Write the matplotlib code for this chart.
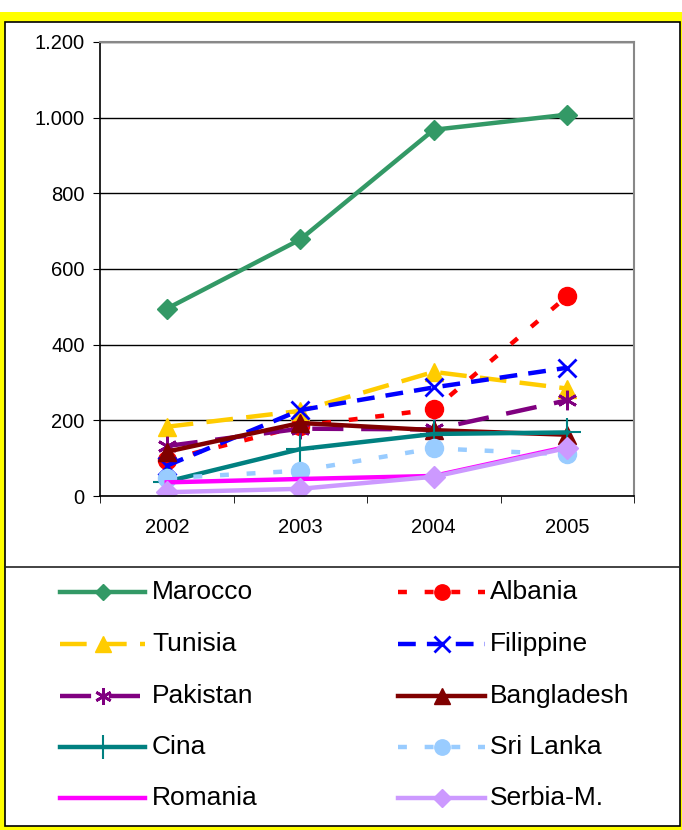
import matplotlib
matplotlib.use("Agg")
import matplotlib.pyplot as plt
from matplotlib.patches import Rectangle
from matplotlib.lines import Line2D
from matplotlib.ticker import FuncFormatter

plt.rcParams["font.family"] = ["Liberation Sans", "DejaVu Sans"]

years = ["2002", "2003", "2004", "2005"]

marocco = [495, 678, 968, 1008]
albania = [95, 185, 229, 528]
tunisia = [183, 225, 328, 284]
filippine = [80, 227, 287, 339]
pakistan = [132, 178, 176, 253]
bangladesh = [117, 193, 174, 162]
cina = [38, 124, 164, 168]
sri_lanka = [47, 67, 126, 110]
romania = [36, 45, 53, 130]
serbia = [10, 19, 51, 127]

names = ["Marocco", "Albania", "Tunisia", "Filippine", "Pakistan",
         "Bangladesh", "Cina", "Sri Lanka", "Romania", "Serbia-M."]
values = [marocco, albania, tunisia, filippine, pakistan,
          bangladesh, cina, sri_lanka, romania, serbia]

styles = [
    dict(color="#339966", ls="-", marker="D", ms=10),
    dict(color="#FF0000", ls=(0, (2.0, 4.0)), marker="o", ms=13),
    dict(color="#FFCC00", ls=(0, (6.0, 3.0)), marker="^", ms=13),
    dict(color="#0000FF", ls=(0, (4.0, 2.5)), marker="x", ms=13, mew=2),
    dict(color="#800080", ls=(0, (7.0, 4.0)), marker=(6, 2, 0), ms=14, mew=2),
    dict(color="#800000", ls="-", marker="^", ms=13),
    dict(color="#008080", ls="-", marker="+", ms=20, mew=1.5),
    dict(color="#99CCFF", ls=(0, (2.0, 4.0)), marker="o", ms=13),
    dict(color="#FF00FF", ls="-", marker=None, ms=0),
    dict(color="#CC99FF", ls="-", marker="D", ms=11),
]

W, H = 682, 830
fig = plt.figure(figsize=(W / 100, H / 100), dpi=100)
fig.patch.set_facecolor("white")

# yellow frame and white panel
fig.patches.append(Rectangle((0, 0), 1, (H - 12) / H, transform=fig.transFigure,
                             facecolor="#FFFF00", edgecolor="none", zorder=0))
fig.patches.append(Rectangle((5 / W, 4 / H), (675 / W), (H - 26) / H,
                             transform=fig.transFigure, facecolor="white",
                             edgecolor="black", lw=1.2, zorder=1))
fig.lines.append(Line2D([5 / W, 680 / W], [(H - 567) / H] * 2,
                        transform=fig.transFigure, color="#222222", lw=1.2, zorder=2))

ax = fig.add_axes([100 / W, (H - 496) / H, 534 / W, 454 / H])
ax.set_zorder(3)
ax.set_facecolor("white")
x = list(range(len(years)))
for name, vals, st in zip(names, values, styles):
    ax.plot(x, vals, color=st["color"], ls=st["ls"], lw=3.2,
            marker=st["marker"], ms=st["ms"], mew=st.get("mew", 1),
            mfc=st["color"], mec=st["color"], label=name)

ax.set_xlim(-0.5, 3.5)
ax.set_ylim(0, 1200)
ax.set_yticks(range(0, 1201, 200))
ax.yaxis.set_major_formatter(FuncFormatter(lambda v, p: f"{int(v):,}".replace(",", ".")))
ax.set_xticks(x)
ax.set_xticklabels(years)
ax.set_xticks([-0.5, 0.5, 1.5, 2.5, 3.5], minor=True)
ax.tick_params(axis="x", which="major", length=0, pad=16, labelsize=14.5)
ax.tick_params(axis="x", which="minor", length=5, direction="out", color="black")
ax.tick_params(axis="y", length=5, direction="out", labelsize=14.5, pad=6)
ax.grid(axis="y", color="black", lw=1)
ax.set_axisbelow(True)
for side in ["top", "right"]:
    ax.spines[side].set_color("#888888")
    ax.spines[side].set_linewidth(1.5)
for side in ["left", "bottom"]:
    ax.spines[side].set_color("black")
    ax.spines[side].set_linewidth(1.2)

# legend panel in pixel coordinates
lg = fig.add_axes([0, 0, 1, 1], zorder=4)
lg.set_xlim(0, W)
lg.set_ylim(H, 0)
lg.axis("off")
rows_y = [592, 644, 696, 747, 798]
cols = [(60, 145, 152), (398, 485, 490)]
for i, (name, st) in enumerate(zip(names, styles)):
    r, c = divmod(i, 2)
    x0, x1, tx = cols[c]
    y = rows_y[r]
    lg.plot([x0, x1], [y, y], color=st["color"], ls=st["ls"], lw=3.2)
    if st["marker"] is not None:
        lg.plot([(x0 + x1) / 2], [y], color=st["color"], ls="none",
                marker=st["marker"], ms=st["ms"] * 0.85, mew=st.get("mew", 1),
                mfc=st["color"], mec=st["color"])
    lg.text(tx, y, name, fontsize=19, va="center", ha="left")

fig.savefig("out.png", dpi=100)
